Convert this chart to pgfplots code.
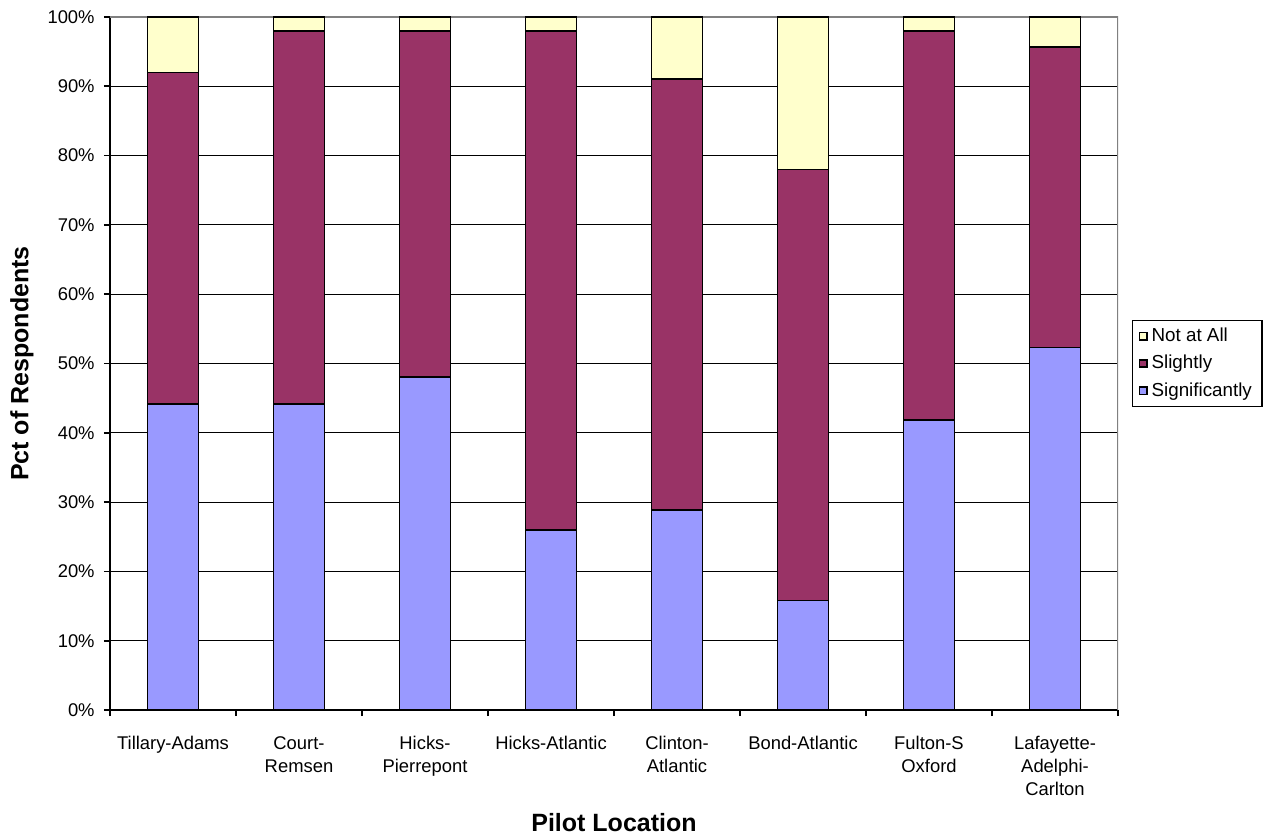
\documentclass[border=0pt]{standalone}
\usepackage{pgfplots}
\pgfplotsset{compat=1.18}
\usepackage{fontspec}
\setmainfont{Liberation Sans}

\definecolor{sigblue}{HTML}{9999FF}
\definecolor{slightplum}{HTML}{993366}
\definecolor{notcream}{HTML}{FFFFCC}
\definecolor{frame}{HTML}{808080}

\begin{document}
\begin{tikzpicture}
\path[use as bounding box] (-55pt,-63pt) rectangle (578.5pt,355pt);
\begin{axis}[
  scale only axis,
  width=504pt, height=346.5pt,
  ybar stacked,
  bar width=25.5pt,
  xmin=-0.5, xmax=7.5,
  ymin=0, ymax=100,
  axis x line*=bottom,
  axis y line*=left,
  axis line style={black, line width=0.9pt},
  every outer x axis line/.append style={-},
  every outer y axis line/.append style={-},
  xtick={0,...,7},
  xticklabels={Tillary-Adams, Court-\\Remsen, Hicks-\\Pierrepont, Hicks-Atlantic, Clinton-\\Atlantic, Bond-Atlantic, Fulton-S\\Oxford, Lafayette-\\Adelphi-\\Carlton},
  minor xtick={-0.5,0.5,...,7.5},
  major x tick style={draw=none},
  minor x tick style={black, line width=0.9pt},
  ytick={0,10,...,100},
  yticklabel={\pgfmathprintnumber{\tick}\%},
  /pgf/number format/assume math mode=true,
  y tick style={black, line width=0.9pt},
  tick align=outside,
  major tick length=3pt,
  minor tick length=3pt,
  ymajorgrids,
  major grid style={black, line width=0.5pt},
  tick label style={font=\fontsize{9.2}{11.5}\selectfont},
  xticklabel style={align=center, anchor=north, inner sep=0pt, yshift=-10pt},
  yticklabel style={anchor=east, inner sep=0pt, xshift=-4.5pt},
  xlabel={Pilot Location},
  ylabel={Pct of Respondents},
  xlabel style={font=\bfseries\fontsize{12.5}{15}\selectfont, at={(axis description cs:0.5,-0.176)}, anchor=base},
  ylabel style={font=\bfseries\fontsize{12.5}{15}\selectfont, at={(axis description cs:-0.0873,0.5)}, anchor=center},
  reverse legend,
  legend style={at={(axis description cs:1,0.5)}, anchor=west, xshift=7pt,
    draw=black, line width=0.6pt, font=\fontsize{9.4}{11}\selectfont,
    inner xsep=3pt, inner ysep=1.8pt, row sep=1.4pt,
    /tikz/every even column/.append style={column sep=2pt}},
  legend cell align=left,
  legend image code/.code={\draw[#1, line width=0.9pt] (0.8pt,-1.8pt) rectangle (4.4pt,1.8pt);},
]
% Significantly
\addplot[fill=sigblue, draw=black, line width=0.9pt] coordinates {
  (0,44.1) (1,44.1) (2,48.1) (3,26.0) (4,28.9) (5,15.8) (6,41.8) (7,52.3)};
% Slightly
\addplot[fill=slightplum, draw=black, line width=0.9pt] coordinates {
  (0,47.9) (1,53.9) (2,49.9) (3,72.0) (4,62.2) (5,62.2) (6,56.2) (7,43.4)};
% Not at All
\addplot[fill=notcream, draw=black, line width=0.9pt] coordinates {
  (0,8.0) (1,2.0) (2,2.0) (3,2.0) (4,8.9) (5,22.0) (6,2.0) (7,4.3)};
\legend{Significantly, Slightly, Not at All}
\draw[frame, line width=0.9pt] (rel axis cs:0,1) -- (rel axis cs:1,1) -- (rel axis cs:1,0);
\end{axis}
\end{tikzpicture}
\end{document}
